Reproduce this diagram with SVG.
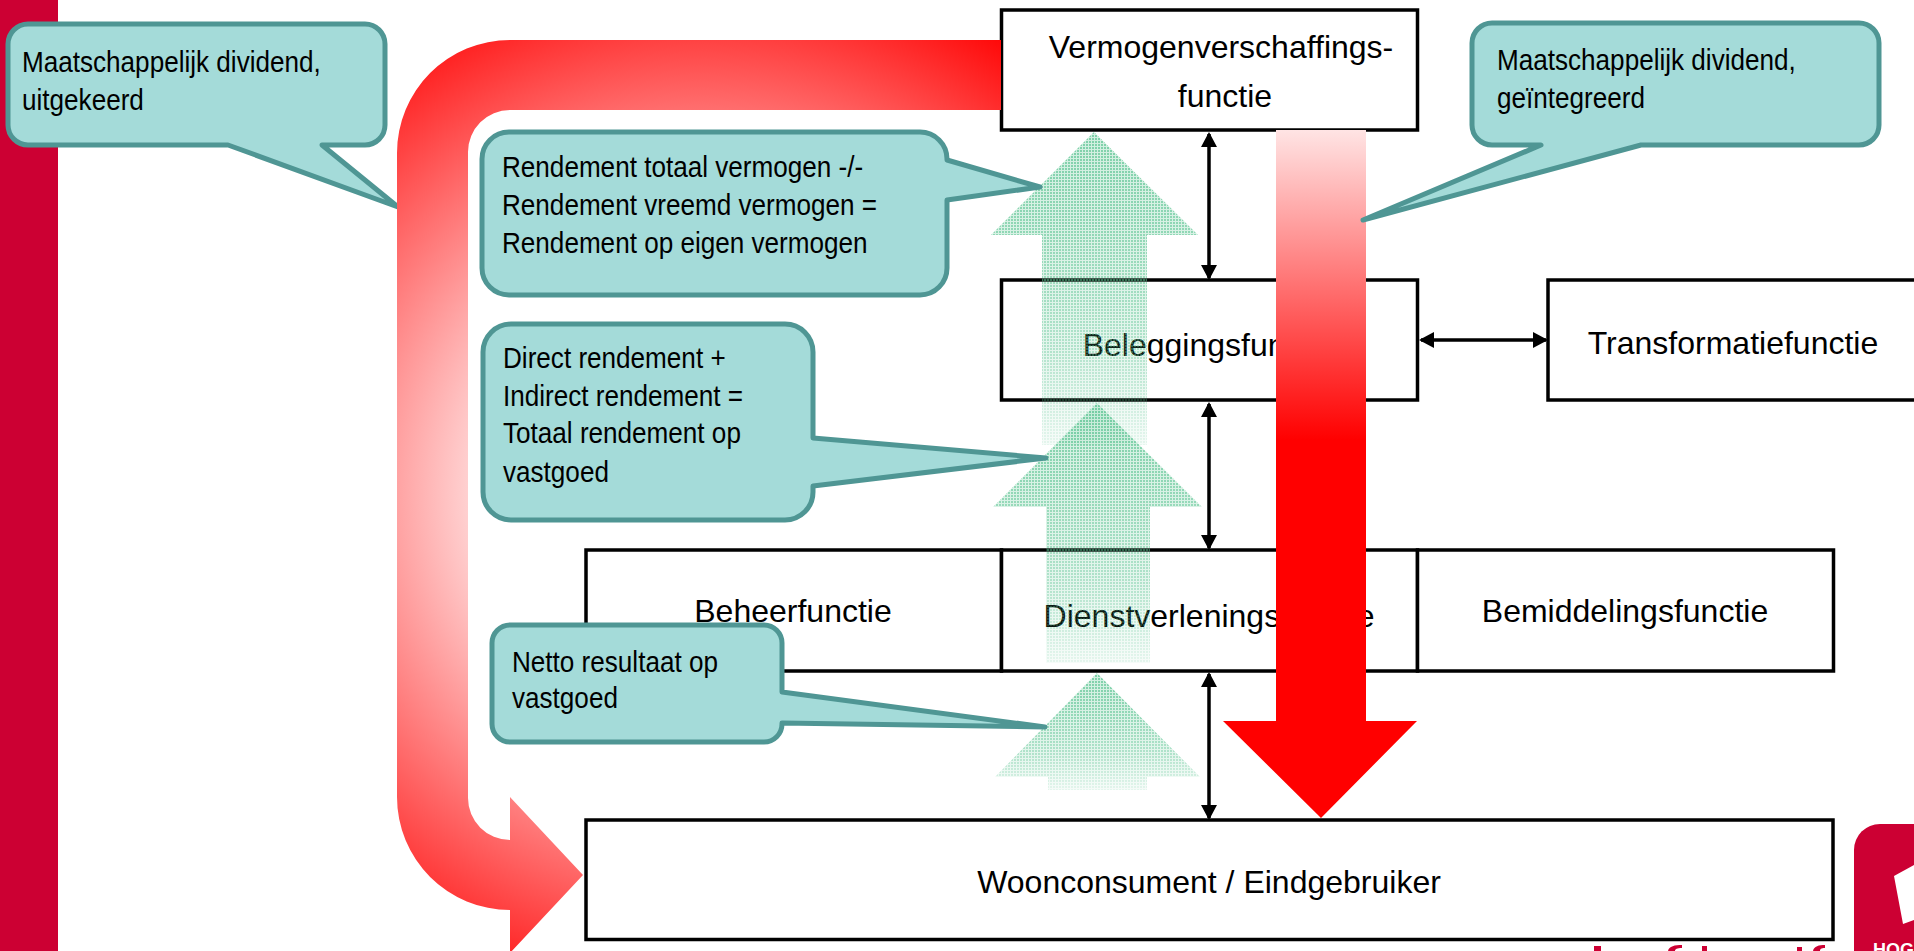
<svg xmlns="http://www.w3.org/2000/svg" width="1914" height="951" viewBox="0 0 1914 951">
<style>
.box{fill:#fff;stroke:#000;stroke-width:3.5}
.lbl{font-family:"Liberation Sans",Arial,sans-serif;font-size:32px;fill:#000;text-anchor:middle}
.ct{font-family:"Liberation Sans",Arial,sans-serif;font-size:30px;fill:#000}
.co{fill:#a4dbd9;stroke:#4f9694;stroke-width:5;stroke-linejoin:round}
.con{stroke:#000;stroke-width:3.5;fill:none;marker-start:url(#ah);marker-end:url(#ah)}
.grn{fill:url(#gp);mask:url(#fade)}
.frag{fill:#cc0033}
</style>
<defs>
<marker id="ah" viewBox="0 0 15 16" refX="13" refY="8" markerWidth="15" markerHeight="16" markerUnits="userSpaceOnUse" orient="auto-start-reverse"><path d="M0 0L15 8L0 16Z" fill="#000"/></marker>
<radialGradient id="rb" gradientUnits="userSpaceOnUse" cx="699" cy="495" r="560"><stop offset="0.28" stop-color="#fff"/><stop offset="1" stop-color="#f00"/></radialGradient>
<linearGradient id="rd" gradientUnits="userSpaceOnUse" x1="0" y1="130" x2="0" y2="440"><stop offset="0" stop-color="#ffe4e4"/><stop offset="1" stop-color="#f00"/></linearGradient>
<pattern id="gp" width="3" height="3" patternUnits="userSpaceOnUse"><rect width="3" height="3" fill="#66cc99" opacity=".3"/><rect width="2" height="2" fill="#5cc491" opacity=".7"/></pattern>
<linearGradient id="fg" x1="0" y1="0" x2="0" y2="1"><stop offset="0" stop-color="#fff"/><stop offset=".3" stop-color="#ddd"/><stop offset=".7" stop-color="#999"/><stop offset="1" stop-color="#333"/></linearGradient>
<mask id="fade" maskContentUnits="objectBoundingBox" x="0" y="0" width="1" height="1"><rect width="1" height="1" fill="url(#fg)"/></mask>
</defs>
<rect id="sidebar" x="0" y="0" width="58" height="951" fill="#cc0033"/>
<g id="logo"><path d="M1914 824H1880A26 26 0 0 0 1854 850V951H1914Z" fill="#cc0033"/><path d="M1894 876L1914 865V920L1903 924Z" fill="#fff"/><text x="1873" y="956" font-family="'Liberation Sans',Arial,sans-serif" font-size="18" font-weight="bold" fill="#fff">HOG</text></g>
<g id="footer-fragments"><rect class="frag" x="1594" y="946" width="7" height="5"/><path class="frag" d="M1668 951C1669 946 1675 945 1682 945V948C1677 948 1675 949 1675 951Z"/><rect class="frag" x="1702" y="946" width="5" height="5"/><rect class="frag" x="1797" y="947" width="5" height="4"/><path class="frag" d="M1813 951C1814 946 1819 945 1825 945V948C1821 948 1820 949 1820 951Z"/></g>

<g id="node-vermogen"><rect class="box" x="1001.5" y="10" width="416" height="120"/><text class="lbl" x="1221" y="58">Vermogenverschaffings-</text><text class="lbl" x="1225" y="107">functie</text></g>
<g id="node-belegging"><rect class="box" x="1001.5" y="280" width="416" height="120"/><text class="lbl" x="1209" y="356">Beleggingsfunctie</text></g>
<g id="node-transformatie"><rect class="box" x="1548" y="280" width="370" height="120"/><text class="lbl" x="1733" y="354">Transformatiefunctie</text></g>
<g id="node-beheer"><rect class="box" x="586" y="550" width="415.500" height="121"/><text class="lbl" x="793" y="622">Beheerfunctie</text></g>
<g id="node-dienst"><rect class="box" x="1001.5" y="550" width="416" height="121"/><text class="lbl" x="1209" y="627">Dienstverleningsfunctie</text></g>
<g id="node-bemiddeling"><rect class="box" x="1417.500" y="550" width="416" height="121"/><text class="lbl" x="1625" y="622">Bemiddelingsfunctie</text></g>
<g id="node-woon"><rect class="box" x="586" y="820" width="1247" height="119.500"/><text class="lbl" x="1209" y="893">Woonconsument / Eindgebruiker</text></g>

<g id="connectors">
<line class="con" x1="1209" y1="134" x2="1209" y2="278"/>
<line class="con" x1="1209" y1="404" x2="1209" y2="548"/>
<line class="con" x1="1209" y1="674" x2="1209" y2="818"/>
<line class="con" x1="1421" y1="340" x2="1546" y2="340"/>
</g>

<g id="callout-uitgekeerd"><path class="co" d="M28 24H365a20 20 0 0 1 20 20V125a20 20 0 0 1-20 20H322L398 207L228 145H28a20 20 0 0 1-20-20V44a20 20 0 0 1 20-20Z"/><text class="ct" transform="translate(22 72) scale(.87 1)">Maatschappelijk dividend,</text><text class="ct" transform="translate(22 110) scale(.87 1)">uitgekeerd</text></g>

<g id="arrow-red-bent"><path fill="url(#rb)" d="M1001 40H510A113 113 0 0 0 397 153V797A113 113 0 0 0 510 910V953L583 875L510 797V840A42 42 0 0 1 468 798V152A42 42 0 0 1 510 110H1001Z"/></g>

<g id="arrows-green">
<path class="grn" d="M1094 132L1198 235H1147V445H1042V235H991Z"/>
<path class="grn" d="M1097 403L1202 507H1150V663H1046V507H993Z"/>
<path class="grn" d="M1097 673L1200 777H1147V790H1048V777H995Z"/>
</g>

<g id="callout-rendement-ev"><path class="co" d="M509 132H920a27 27 0 0 1 27 27V160L1040 187L947 200V268a27 27 0 0 1-27 27H509a27 27 0 0 1-27-27V159a27 27 0 0 1 27-27Z"/><text class="ct" transform="translate(502 177) scale(.87 1)">Rendement totaal vermogen -/-</text><text class="ct" transform="translate(502 215) scale(.87 1)">Rendement vreemd vermogen =</text><text class="ct" transform="translate(502 253) scale(.87 1)">Rendement op eigen vermogen</text></g>
<g id="callout-totaal"><path class="co" d="M511 324H785a28 28 0 0 1 28 28V438L1046 458L813 486V492a28 28 0 0 1-28 28H511a28 28 0 0 1-28-28V352a28 28 0 0 1 28-28Z"/><text class="ct" transform="translate(503 368) scale(.87 1)">Direct rendement +</text><text class="ct" transform="translate(503 406) scale(.87 1)">Indirect rendement =</text><text class="ct" transform="translate(503 443) scale(.87 1)">Totaal rendement op</text><text class="ct" transform="translate(503 482) scale(.87 1)">vastgoed</text></g>
<g id="callout-netto"><path class="co" d="M510 625H764a18 18 0 0 1 18 18V692L1045 727L782 723V724a18 18 0 0 1-18 18H510a18 18 0 0 1-18-18V643a18 18 0 0 1 18-18Z"/><text class="ct" transform="translate(512 672) scale(.87 1)">Netto resultaat op</text><text class="ct" transform="translate(512 708) scale(.87 1)">vastgoed</text></g>

<g id="arrow-red-down"><path fill="url(#rd)" d="M1276 130H1366V721H1417L1321 818L1223 721H1276Z"/></g>

<g id="callout-geintegreerd"><path class="co" d="M1492 23H1859a20 20 0 0 1 20 20V125a20 20 0 0 1-20 20H1641L1363 220L1541 145H1492a20 20 0 0 1-20-20V43a20 20 0 0 1 20-20Z"/><text class="ct" transform="translate(1497 70) scale(.87 1)">Maatschappelijk dividend,</text><text class="ct" transform="translate(1497 108) scale(.87 1)">geïntegreerd</text></g>
</svg>
